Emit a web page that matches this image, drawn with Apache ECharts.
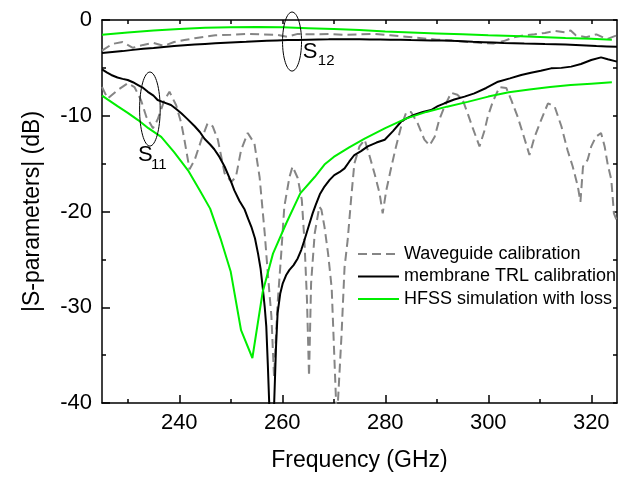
<!DOCTYPE html>
<html><head><meta charset="utf-8">
<script src="https://cdn.jsdelivr.net/npm/echarts@6/dist/echarts.min.js"></script>
<style>html,body{margin:0;padding:0;background:#fff}#c{width:619px;height:477px}</style>
</head><body><div id="c"></div><script>
// ---- data (frequency in GHz, magnitude in dB) ----
var waveS12Freq = [225,227,229,231,233,235,237,239,241,243,245,247,250,253,256,259,261,263,266,269,272,275,278,281,284,287,290,293,296,299,301,303,305,307,309,311,313,315,316,317,319,321,323,325];
var waveS12Val  = [-3.2,-2.5,-2.3,-2.9,-2.6,-2.4,-2.7,-2.3,-2.1,-1.9,-1.75,-1.6,-1.55,-1.45,-1.5,-1.55,-1.75,-1.45,-1.5,-1.45,-1.55,-1.5,-1.45,-1.6,-1.75,-1.9,-2.05,-2.15,-2.3,-2.4,-2.45,-2.2,-1.8,-1.6,-1.5,-1.35,-1.15,-1.3,-1.1,-1.6,-1.8,-1.5,-2.0,-1.6];

var trlS12Freq = [225,227,229,231,233,235,237,239,241,243,245,247,249,251,253,255,257,259,261,263,265,267,269,271,273,275,277,279,281,283,285,287,289,291,293,295,297,299,301,303,305,307,309,311,313,315,317,319,321,323,325];
var trlS12Val  = [-3.45,-3.35,-3.25,-3.12,-3.0,-2.92,-2.82,-2.72,-2.64,-2.56,-2.5,-2.44,-2.38,-2.33,-2.28,-2.22,-2.18,-2.14,-2.1,-2.08,-2.05,-2.03,-2.02,-2.0,-2.02,-2.01,-2.04,-2.03,-2.07,-2.06,-2.1,-2.12,-2.15,-2.13,-2.18,-2.22,-2.28,-2.32,-2.36,-2.4,-2.42,-2.45,-2.47,-2.5,-2.52,-2.55,-2.6,-2.66,-2.72,-2.76,-2.8];

var hfssS12Freq = [225,230,235,240,245,250,255,260,265,270,275,280,285,290,295,300,305,310,315,320,324];
var hfssS12Val  = [-1.55,-1.3,-1.1,-0.95,-0.82,-0.75,-0.72,-0.75,-0.85,-0.95,-1.05,-1.2,-1.3,-1.4,-1.5,-1.6,-1.68,-1.78,-1.88,-1.97,-2.05];

var waveS11Freq = [225,226.1,228.1,230,231.3,232.6,233.6,234.9,235.8,237.1,238.1,239.4,240.4,241,242,243,244.3,245.5,246.5,247.5,248.8,250.1,251,252,253.3,254.6,255.6,256.6,257.2,257.9,258.4,259.1,259.8,260.4,261.4,262,263,263.8,264.3,264.8,265.2,265.6,266.3,267.2,267.6,268.2,268.9,269.6,270.6,271.5,272.1,272.7,273.4,274,275,276,276.9,277.9,278.9,279.5,280.2,281.2,282.1,283.1,284.1,285,286.3,287.6,288.6,289.6,290.5,291.5,292.8,294,295,296,297,298.3,299.3,299.9,300.9,302.2,303.5,304.5,305.7,306.7,308,309,310.3,311.6,312.9,314.2,315.4,316.4,317.4,317.9,318.4,319.3,320,320.9,321.9,322.6,323.2,323.9,324.4,325];
var waveS11Val  = [-7.0,-8.2,-7.3,-6.6,-7.0,-8.4,-10.1,-11.3,-10.4,-8.4,-7.5,-8.9,-10.8,-12.5,-15.6,-14.6,-12.5,-10.8,-11.1,-12.5,-16.0,-16.9,-16.4,-13.6,-11.8,-12.9,-16.4,-22.3,-26.5,-31,-37.2,-29.6,-24.4,-19.5,-16.4,-15.3,-16.5,-18.8,-23,-29.2,-37.2,-27.5,-22.3,-19.5,-19.8,-21.6,-24.4,-28,-42,-33,-25.8,-23,-18.5,-15,-13.2,-12.5,-14.1,-16,-18.1,-20.2,-17.8,-15.3,-13.2,-11.1,-9.6,-9.6,-10.8,-12.5,-13.1,-12.2,-10.4,-9.05,-7.6,-7.8,-8.3,-9.75,-11.3,-13.2,-11.5,-10.1,-8.5,-7.0,-7.1,-8.4,-10.1,-11.8,-14.1,-12.2,-10.4,-8.7,-9.05,-11.1,-13.6,-15.3,-17.4,-19.0,-15.3,-14.6,-13.2,-12.2,-11.8,-13.2,-15.1,-16.7,-20.2,-21];

var trlS11Freq = [225,226,226.8,228,229,230,231,232,233,233.9,235,235.8,237,238.4,239.4,240.4,241.5,243,244,244.9,246,246.8,247.8,248.8,250,250.7,251.7,252.7,253.4,254,254.7,255.3,255.8,256.2,256.6,256.9,257.2,257.5,257.9,258.4,258.8,259.1,259.6,260.1,260.8,261.4,262.2,263,263.7,264.3,265.1,265.9,266.5,267.3,268.2,269.2,270.1,271.1,272.1,273,274,275.3,276.6,278.3,279.9,281.5,283.1,284.4,285.7,287.3,288.9,290.2,291.5,293.4,295.4,297.3,299.6,301.9,304.2,306.4,308.3,310.2,312.2,314.2,316.1,318,320,321.9,323.2,325];
var trlS11Val  = [-5.15,-5.5,-5.74,-6.0,-6.15,-6.27,-6.5,-6.8,-7.1,-7.5,-7.9,-8.36,-8.6,-8.88,-9.3,-9.75,-10.3,-11.1,-11.7,-12.4,-13.0,-13.5,-14.3,-15.3,-16.8,-17.8,-18.9,-19.8,-20.8,-21.6,-22.8,-24.4,-26,-27.9,-30,-32,-36,-40.5,-45,-40.5,-34,-30.6,-28.6,-27.5,-26.6,-26.1,-25.6,-24.9,-24.0,-23,-21.6,-20.2,-19.3,-18.2,-17.4,-16.7,-16.2,-15.9,-15.5,-14.8,-14.1,-13.7,-13.2,-12.8,-12.5,-11.6,-10.6,-10.2,-9.9,-9.6,-9.4,-9.0,-8.7,-8.3,-8.0,-7.66,-7.1,-6.44,-6.1,-5.74,-5.5,-5.3,-5.05,-5.0,-4.87,-4.6,-4.18,-3.9,-4.1,-4.35];

var hfssS11Freq = [225,228,230,232,234,236.5,239,241.7,244,246,248,250,252,254.2,256.2,258.2,260.8,263.5,266.3,268.2,270,273,276,280,284,288,292,296,300,304,308,312,316,320,324];
var hfssS11Val  = [-7.9,-9.0,-9.7,-10.45,-11.3,-12.2,-13.8,-15.7,-17.8,-19.7,-22.8,-26.3,-32.4,-35.3,-28.4,-24.4,-21.2,-18.1,-16.4,-15.1,-14.3,-13.3,-12.4,-11.3,-10.3,-9.6,-9.05,-8.55,-8.0,-7.55,-7.25,-7.0,-6.8,-6.65,-6.5];

var xMajorTicks = [240,260,280,300,320];
var xMinorTicks = [230,250,270,290,310];
var xAllTicks   = [230,240,250,260,270,280,290,300,310,320];
var seriesNames = ['Waveguide calibration','membrane TRL calibration','HFSS simulation with loss'];

function pairs(f, v){ return f.map(function(x,i){ return [x, v[i]]; }); }

var FONT = '"Liberation Sans", Arial, sans-serif';
var GRAY = '#858585', BLACK = '#000000', GREEN = '#00ee00';

var chart = echarts.init(document.getElementById('c'), null, {renderer:'canvas'});

function lineSeries(name, data, color, type, width){
  return {name:name, type:'line', data:data, showSymbol:false, symbol:'none', clip:true,
    xAxisIndex:0, yAxisIndex:0, animation:false,
    lineStyle:{color:color, width:width, type:type}, itemStyle:{color:color}};
}
var dash = [9,5];

chart.setOption({
  animation:false,
  backgroundColor:'#fff',
  textStyle:{fontFamily:FONT},
  grid:{left:102, right:2, top:20, bottom:74, containLabel:false},
  legend:{
    data:seriesNames, orient:'vertical', left:352, top:240,
    itemWidth:41, itemHeight:14, itemGap:4.5,
    itemStyle:{opacity:0, borderWidth:0},
    textStyle:{fontSize:18, fontFamily:FONT, color:'#000', lineHeight:18},
    selectedMode:false
  },
  xAxis:[
    {type:'value', position:'bottom', min:225, max:325,
      axisLine:{show:true, onZero:false, lineStyle:{color:'#000', width:1.5}},
      axisTick:{show:true, inside:true, length:8, customValues:xMajorTicks, lineStyle:{color:'#000', width:1.5}},
      axisLabel:{show:true, customValues:xMajorTicks, fontSize:22, color:'#000', margin:9, fontFamily:FONT},
      splitLine:{show:false},
      name:'Frequency (GHz)', nameLocation:'middle', nameGap:46,
      nameTextStyle:{fontSize:23, color:'#000', fontFamily:FONT}},
    {type:'value', position:'bottom', min:225, max:325,
      axisLine:{show:false, onZero:false},
      axisTick:{show:true, inside:true, length:4, customValues:xMinorTicks, lineStyle:{color:'#000', width:1.5}},
      axisLabel:{show:false}, splitLine:{show:false}},
    {type:'value', position:'top', min:225, max:325,
      axisLine:{show:true, onZero:false, lineStyle:{color:'#000', width:1.5}},
      axisTick:{show:true, inside:true, length:4, customValues:xAllTicks, lineStyle:{color:'#000', width:1.5}},
      axisLabel:{show:false}, splitLine:{show:false}}
  ],
  yAxis:[
    {type:'value', position:'left', min:-40, max:0, interval:10,
      axisLine:{show:true, onZero:false, lineStyle:{color:'#000', width:1.5}},
      axisTick:{show:true, inside:true, length:8, lineStyle:{color:'#000', width:1.5}},
      minorTick:{show:true, splitNumber:2, length:4, lineStyle:{color:'#000', width:1.5}},
      axisLabel:{fontSize:22, color:'#000', margin:10, fontFamily:FONT},
      splitLine:{show:false},
      name:'|S-parameters| (dB)', nameLocation:'middle', nameGap:58,
      nameTextStyle:{fontSize:23, color:'#000', fontFamily:FONT}},
    {type:'value', position:'right', min:-40, max:0, interval:5,
      axisLine:{show:true, onZero:false, lineStyle:{color:'#000', width:1.5}},
      axisTick:{show:true, inside:true, length:4, lineStyle:{color:'#000', width:1.5}},
      axisLabel:{show:false}, splitLine:{show:false}}
  ],
  series:[
    lineSeries(seriesNames[0], pairs(waveS12Freq, waveS12Val), GRAY, dash, 2),
    lineSeries(seriesNames[0], pairs(waveS11Freq, waveS11Val), GRAY, dash, 2),
    lineSeries(seriesNames[1], pairs(trlS12Freq, trlS12Val), BLACK, 'solid', 2),
    lineSeries(seriesNames[1], pairs(trlS11Freq, trlS11Val), BLACK, 'solid', 2),
    lineSeries(seriesNames[2], pairs(hfssS12Freq, hfssS12Val), GREEN, 'solid', 2),
    lineSeries(seriesNames[2], pairs(hfssS11Freq, hfssS11Val), GREEN, 'solid', 2)
  ]
});

// annotations: ellipses and labels anchored to data coordinates
function px(f, v){ return chart.convertToPixel({gridIndex:0}, [f, v]); }
var e12 = px(261.9, -2.25), e11 = px(234.3, -9.3);
var s12 = px(264.0, -3.35), s11 = px(232.0, -14.05);
chart.setOption({
  graphic:[
    {type:'ellipse', shape:{cx:e12[0], cy:e12[1], rx:9.5, ry:29.5}, style:{fill:'none', stroke:'#000', lineWidth:1}, z:100},
    {type:'ellipse', shape:{cx:e11[0], cy:e11[1], rx:10.3, ry:37}, style:{fill:'none', stroke:'#000', lineWidth:1}, z:100},
    {type:'text', x:s12[0], y:s12[1], style:{text:'S', fontSize:22, fontFamily:FONT, fill:'#000', verticalAlign:'middle'}, z:100},
    {type:'text', x:s12[0]+15, y:s12[1]+9, style:{text:'12', fontSize:15, fontFamily:FONT, fill:'#000', verticalAlign:'middle'}, z:100},
    {type:'text', x:s11[0], y:s11[1], style:{text:'S', fontSize:22, fontFamily:FONT, fill:'#000', verticalAlign:'middle'}, z:100},
    {type:'text', x:s11[0]+13, y:s11[1]+10, style:{text:'11', fontSize:15, fontFamily:FONT, fill:'#000', verticalAlign:'middle'}, z:100}
  ]
});
</script></body></html>
